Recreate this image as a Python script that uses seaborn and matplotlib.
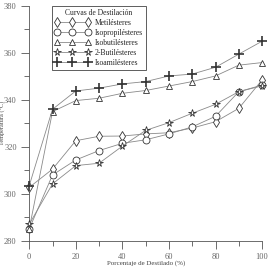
import pandas as pd
import matplotlib
matplotlib.use("Agg")
import matplotlib.pyplot as plt
from matplotlib.lines import Line2D
import seaborn as sns

# --- DATA ---
destilado = [0, 10, 20, 30, 40, 50, 60, 70, 80, 90, 100]
metil = [302.7, 310.5, 322.6, 324.5, 324.6, 325.5, 326.0, 328.0, 330.7, 336.4, 348.5]
isopropil = [285.0, 308.0, 314.4, 318.4, 321.5, 323.0, 325.5, 328.5, 333.0, 343.5, 346.3]
isobutil = [285.0, 335.0, 339.7, 340.7, 342.8, 344.0, 345.9, 347.8, 350.2, 354.8, 355.9]
butil2 = [287.0, 304.2, 312.0, 313.0, 320.3, 327.0, 330.3, 334.3, 338.1, 343.5, 346.0]
isoamil = [303.4, 336.0, 343.8, 345.0, 346.8, 347.8, 350.2, 351.0, 353.9, 359.5, 365.0]

series_names = ["Metilésteres", "Isopropilésteres", "Isobutilésteres",
                "2-Butilésteres", "Isoamilésteres"]
series_vals = [metil, isopropil, isobutil, butil2, isoamil]
series_markers = ["d", "o", "^", "*", "+"]
series_sizes = [5.5, 5, 5, 5.5, 6.5]

df = pd.DataFrame({"x": destilado * 5,
                   "T": sum(series_vals, []),
                   "serie": [n for n in series_names for _ in destilado]})

# --- PLOT ---
sns.set_style("ticks")
plt.rcParams["font.family"] = ["Liberation Serif", "DejaVu Serif"]
fig = plt.figure(figsize=(2.68, 2.67), dpi=100)
ax = fig.add_axes([0.109, 0.0985, 0.869, 0.879])

handles = []
for name, mk, ms in zip(series_names, series_markers, series_sizes):
    sub = df[df["serie"] == name]
    filled = mk != "+"
    style = dict(color="#8a8a8a", linewidth=0.6, marker=mk, markersize=ms,
                 markerfacecolor="white" if filled else "black",
                 markeredgecolor="#333333", markeredgewidth=0.6 if filled else 1.2)
    sns.lineplot(data=sub, x="x", y="T", ax=ax, clip_on=False, legend=False,
                 zorder=3, **style)
    handles.append(Line2D([0], [0], **style))

ax.set_xlim(0, 100)
ax.set_ylim(280, 380)
ax.set_xticks([0, 20, 40, 60, 80, 100])
ax.set_xticks([10, 30, 50, 70, 90], minor=True)
ax.set_yticks([280, 300, 320, 340, 360, 380])
ax.set_yticks([290, 310, 330, 350, 370], minor=True)
ax.tick_params(which="major", length=6, width=0.6, color="#555555",
               labelsize=6, labelcolor="#666666", pad=3)
ax.tick_params(which="minor", length=3.5, width=0.6, color="#555555")
for s in ["top", "right"]:
    ax.spines[s].set_visible(False)
for s in ["left", "bottom"]:
    ax.spines[s].set_linewidth(0.6)
    ax.spines[s].set_color("#555555")

ax.set_xlabel("Porcentaje de Destilado (%)", fontsize=5, color="#444444")
ax.xaxis.set_label_coords(0.5, -0.085)
ax.set_ylabel("Temperatura (°C)", fontsize=4.5, color="#444444")
ax.yaxis.set_label_coords(-0.098, 0.5)

leg = ax.legend(handles, series_names, title="Curvas de Destilación",
                loc="upper left", bbox_to_anchor=(0.097, 1.0), borderaxespad=0,
                fontsize=5.5, title_fontsize=5.5, numpoints=3, handlelength=4.6,
                handletextpad=0.6, labelspacing=0.25, fancybox=False,
                framealpha=1, edgecolor="#444444", borderpad=0.4)
leg.get_frame().set_linewidth(0.6)

plt.savefig("out.png", dpi=100)
